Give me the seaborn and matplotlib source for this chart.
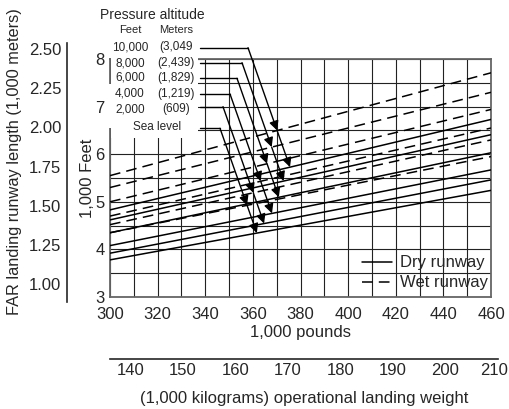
import numpy as np
import pandas as pd
import matplotlib
matplotlib.use('Agg')
import matplotlib.pyplot as plt
import matplotlib.transforms as mtransforms
from matplotlib.lines import Line2D
from matplotlib.patches import Rectangle
import seaborn as sns

sns.set_style('white')
plt.rcParams['font.family'] = ['Liberation Sans', 'DejaVu Sans']

# weight range (1,000 lb) and runway length (1,000 ft)
weight_klb = [300, 460]
alt_feet = ['Sea level', '2,000', '4,000', '6,000', '8,000', '10,000']
alt_meters = ['', '(609)', '(1,219)', '(1,829)', '(2,439)', '(3,049']
dry_300 = [3.78, 3.92, 4.08, 4.35, 4.62, 4.83]
dry_460 = [5.24, 5.46, 5.67, 6.03, 6.41, 6.73]
wet_300 = [4.35, 4.52, 4.70, 5.00, 5.30, 5.55]
wet_460 = [5.95, 6.30, 6.55, 6.94, 7.30, 7.71]

lb_ticks = [300, 320, 340, 360, 380, 400, 420, 440, 460]
ft_ticks = [3, 4, 5, 6, 7, 8]
kg_ticks = [140, 150, 160, 170, 180, 190, 200, 210]
m_ticks = [1.00, 1.25, 1.50, 1.75, 2.00, 2.25, 2.50]

rows = []
for i, alt in enumerate(alt_feet):
    for w, d, wt in zip(weight_klb, [dry_300[i], dry_460[i]], [wet_300[i], wet_460[i]]):
        rows.append({'weight': w, 'length': d, 'altitude': alt, 'surface': 'Dry runway'})
        rows.append({'weight': w, 'length': wt, 'altitude': alt, 'surface': 'Wet runway'})
df = pd.DataFrame(rows)

W, H = 509, 409
fig = plt.figure(figsize=(W / 100, H / 100), dpi=100)


def fx(px):
    return px / W


def fy(py):
    return 1 - py / H


# main axes: 300..460 klb -> px 110..491, 3..8 kft -> px 297..59
ax = fig.add_axes([fx(110), fy(297), fx(491) - fx(110), fy(59) - fy(297)])
sns.lineplot(data=df, x='weight', y='length', units='altitude', style='surface',
             estimator=None, color='black', lw=1.1, legend=False, ax=ax,
             dashes={'Dry runway': '', 'Wet runway': (7, 4)}, zorder=3)
ax.set_xlim(300, 460)
ax.set_ylim(3, 8)
ax.set_xticks(lb_ticks)
ax.set_xticks(np.arange(300, 461, 10), minor=True)
ax.set_yticks(ft_ticks)
ax.set_yticks(np.arange(3, 8.01, 0.5), minor=True)
ax.grid(which='both', color='#222222', lw=0.8)
ax.tick_params(which='both', length=0, labelsize=12)
ax.tick_params(axis='x', pad=7)
ax.tick_params(axis='y', pad=4)
for s in ax.spines.values():
    s.set_color('#666666')
    s.set_linewidth(1.3)
ax.set_xlabel('1,000 pounds', fontsize=12, labelpad=2)
ax.set_ylabel('1,000 Feet', fontsize=12, labelpad=0)

# white patch behind the altitude key
ax.add_patch(Rectangle((300.4, 6.33), 36.6, 1.72, facecolor='white', edgecolor='none',
                       zorder=2.6, clip_on=False))
ax.add_patch(Rectangle((298.8, 6.56), 2.4, 0.92, facecolor='white', edgecolor='none',
                       zorder=2.6, clip_on=False))

# legend
handles = [Line2D([], [], color='black', lw=1.1),
           Line2D([], [], color='black', lw=1.1, dashes=(7, 4))]
ax.legend(handles, ['Dry runway', 'Wet runway'], loc='lower right', frameon=False,
          fontsize=12, handlelength=1.8, handletextpad=0.5, labelspacing=0.3,
          borderaxespad=0.3, borderpad=0.1, bbox_to_anchor=(1.01, 0))

# pressure altitude key
fig.text(fx(100), fy(15), 'Pressure altitude', fontsize=10, va='center', ha='left')
fig.text(fx(130), fy(30), 'Feet', fontsize=8, va='center', ha='center')
fig.text(fx(176), fy(30), 'Meters', fontsize=8, va='center', ha='center')
row_px = [127, 109, 94, 78, 63, 47]
lead_px = [128.3, 106.7, 94, 78.3, 62.7, 47.7]
bend_px = [220, 223, 230, 237, 242, 248]
for i, alt in enumerate(alt_feet):
    if alt == 'Sea level':
        fig.text(fx(157), fy(row_px[i]), alt, fontsize=8.5, va='center', ha='center')
    else:
        fig.text(fx(130), fy(row_px[i]), alt, fontsize=8.5, va='center', ha='center')
        fig.text(fx(176), fy(row_px[i]), alt_meters[i], fontsize=8.5, va='center', ha='center')

# leader arrows: horizontal, then a common diagonal down to the wet and dry lines
ft_per_px = 5 / 238
lb_per_px = 160 / 381
slope = -0.1423
for i in range(len(alt_feet)):
    yb = 3 + (297 - lead_px[i]) * ft_per_px
    xb = 300 + (bend_px[i] - 110) * lb_per_px
    x0 = 300 + (200 - 110) * lb_per_px
    ax.plot([x0, xb], [yb, yb], color='black', lw=1, clip_on=False, zorder=4)
    pts = []
    for a, b in [(wet_300[i], wet_460[i]), (dry_300[i], dry_460[i])]:
        m = (b - a) / 160
        x = (yb - slope * xb - a + m * 300) / (m - slope)
        pts.append((x, a + m * (x - 300)))
    start = (xb, yb)
    for p in pts:
        ax.annotate('', xy=p, xytext=start, annotation_clip=False, zorder=4,
                    arrowprops=dict(arrowstyle='-|>', color='black', lw=1,
                                    shrinkA=0, shrinkB=0, mutation_scale=14))
        start = p

# meters scale on the left
m_lo = (3 - (302 - 297) * ft_per_px) * 0.3048
m_hi = (3 + (297 - 43) * ft_per_px) * 0.3048
ax_m = fig.add_axes([fx(67), fy(302), 0.001, fy(43) - fy(302)])
ax_m.set_ylim(m_lo, m_hi)
ax_m.set_yticks(m_ticks)
ax_m.set_yticklabels([f'{v:.2f}' for v in m_ticks])
ax_m.set_xticks([])
ax_m.patch.set_visible(False)
for k in ['top', 'right', 'bottom']:
    ax_m.spines[k].set_visible(False)
ax_m.spines['left'].set_linewidth(1.2)
ax_m.tick_params(axis='y', direction='in', length=8, width=1, labelsize=12, pad=4)
fig.text(fx(15), fy(162), 'FAR landing runway length (1,000 meters)', fontsize=11.8,
         rotation=90, va='center', ha='center')

# kilogram scale below
kg_lo = 300 * 0.45359
kg_hi = kg_lo + (498 - 110) * lb_per_px * 0.45359
ax_kg = fig.add_axes([fx(110), fy(359), fx(498) - fx(110), 0.001])
ax_kg.set_xlim(kg_lo, kg_hi)
ax_kg.set_xticks(kg_ticks)
ax_kg.set_yticks([])
ax_kg.patch.set_visible(False)
for k in ['top', 'right', 'left']:
    ax_kg.spines[k].set_visible(False)
ax_kg.spines['bottom'].set_linewidth(1.2)
ax_kg.tick_params(axis='x', direction='in', length=9, width=1, labelsize=12, pad=3)
ax_kg.set_xlabel('(1,000 kilograms) operational landing weight', fontsize=12, labelpad=9)
last = ax_kg.get_xticklabels()[-1]
last.set_transform(last.get_transform() +
                   mtransforms.ScaledTranslation(-4 / 100, 0, fig.dpi_scale_trans))

fig.savefig('out.png', dpi=100)
